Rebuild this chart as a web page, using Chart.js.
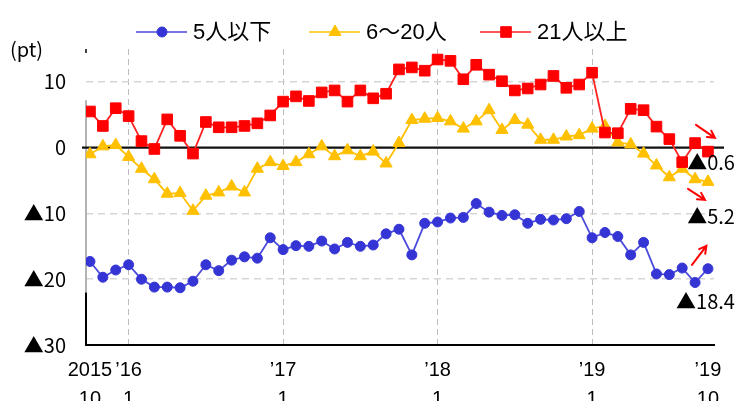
<!DOCTYPE html>
<html><head><meta charset="utf-8">
<script src="https://cdn.jsdelivr.net/npm/chart.js@4.4.0/dist/chart.umd.min.js"></script>
<style>html,body{margin:0;padding:0;background:#fff;}#wrap{width:747px;height:401px;position:relative;}</style>
</head><body><div id="wrap"><canvas id="c" width="747" height="401"></canvas></div>
<script>
// ---- data ----
const months = ["2015/10","2015/11","2015/12","2016/1","2016/2","2016/3","2016/4","2016/5","2016/6","2016/7","2016/8","2016/9","2016/10","2016/11","2016/12",
"2017/1","2017/2","2017/3","2017/4","2017/5","2017/6","2017/7","2017/8","2017/9","2017/10","2017/11","2017/12",
"2018/1","2018/2","2018/3","2018/4","2018/5","2018/6","2018/7","2018/8","2018/9","2018/10","2018/11","2018/12",
"2019/1","2019/2","2019/3","2019/4","2019/5","2019/6","2019/7","2019/8","2019/9","2019/10"];
const seriesNames = ["5人以下","6～20人","21人以上"];
const small5 = [-17.3,-19.7,-18.6,-17.8,-20.0,-21.2,-21.2,-21.3,-20.3,-17.8,
  -18.7,-17.1,-16.6,-16.8,-13.7,-15.5,-14.9,-15.0,-14.2,-15.4,
  -14.4,-15.0,-14.8,-13.1,-12.4,-16.3,-11.5,-11.3,-10.7,-10.6,
  -8.5,-9.8,-10.3,-10.2,-11.5,-10.9,-11.0,-10.8,-9.7,-13.7,
  -12.9,-13.5,-16.3,-14.4,-19.2,-19.3,-18.3,-20.5,-18.4];
const mid6to20 = [-1.0,0.2,0.4,-1.4,-3.2,-4.8,-7.0,-6.9,-9.6,-7.3,
  -6.8,-5.9,-6.8,-3.2,-2.2,-2.8,-2.2,-1.0,0.2,-1.3,
  -0.4,-1.3,-0.6,-2.4,0.7,4.2,4.4,4.5,4.0,2.9,
  4.0,5.7,2.7,4.2,3.5,1.2,1.2,1.7,1.9,2.9,
  3.3,0.8,0.5,-0.9,-2.7,-4.5,-3.2,-4.8,-5.2];
const large21 = [5.5,3.3,6.0,4.8,1.0,-0.2,4.3,1.8,-0.9,3.9,
  3.1,3.1,3.3,3.7,4.9,7.0,7.8,7.1,8.4,8.7,
  7.0,8.7,7.5,8.2,11.9,12.2,11.7,13.4,13.2,10.4,
  12.6,11.1,10.1,8.7,9.0,9.6,10.9,9.1,9.6,11.4,
  2.3,2.2,5.9,5.7,3.2,1.3,-2.2,0.7,-0.6];
const xTickIndex = [0,3,15,27,39,48];
const xTickLabels = [["2015","10"],["’16","1"],["’17","1"],["’18","1"],["’19","1"],["’19","10"]];
const yTickValues = [10,0,-10,-20,-30];
const yTickLabels = ["10","0","▲10","▲20","▲30"];
const latestLabels = ["▲0.6","▲5.2","▲18.4"];
const latestLabelY = [-2.3,-10.5,-23.3];
// arrows: [x1,y1,x2,y2] in chart (index,value) units
const arrowCoords = [[47.07,3.47,48.54,1.49],[46.45,-6.27,47.77,-7.94],[46.76,-17.83,47.88,-14.93]];

// ---- chart ----
const FONT = '"Liberation Sans","Noto Sans CJK JP",sans-serif';
const JFONT = '"Noto Sans CJK JP",sans-serif';
Chart.defaults.font.family = FONT;
Chart.defaults.color = '#000';
const toPts = arr => arr.map((v,i)=>({x:i,y:v}));

const decor = {
  id:'decor',
  beforeDatasetsDraw(chart){
    const {ctx, chartArea:a, scales:{x,y}} = chart;
    ctx.save();
    ctx.lineWidth = 1.5;
    ctx.strokeStyle = '#000';
    ctx.beginPath(); ctx.moveTo(a.left, a.top); ctx.lineTo(a.left, a.top+4); ctx.stroke();
    ctx.strokeStyle = '#9a9a9a';
    ctx.beginPath(); ctx.moveTo(a.left, y.getPixelForValue(7.2)); ctx.lineTo(a.left, y.getPixelForValue(-22)); ctx.stroke();
    ctx.strokeStyle = '#000';
    ctx.lineWidth = 2;
    ctx.beginPath(); ctx.moveTo(a.left, y.getPixelForValue(-22)); ctx.lineTo(a.left, a.bottom); ctx.stroke();
    const y0 = y.getPixelForValue(0);
    ctx.strokeStyle = '#111'; ctx.lineWidth = 2.2;
    ctx.beginPath(); ctx.moveTo(a.left-4, y0); ctx.lineTo(a.right+10, y0); ctx.stroke();
    ctx.restore();
  },
  afterDraw(chart){
    const {ctx, scales:{x,y}} = chart;
    ctx.save();
    ctx.font = '20px ' + JFONT; ctx.fillStyle = '#000';
    ctx.textBaseline = 'middle'; ctx.textAlign = 'left';
    ctx.fillText('(pt)', 10, 49);
    // legend
    const legendX = [136, 309, 480];
    const ly = 32;
    chart.data.datasets.forEach((ds,i)=>{
      const x0 = legendX[i];
      ctx.strokeStyle = ds.borderColor; ctx.lineWidth = 1.5;
      ctx.beginPath(); ctx.moveTo(x0, ly); ctx.lineTo(x0+51, ly); ctx.stroke();
      ctx.fillStyle = ds.pointBackgroundColor; ctx.strokeStyle = ds.pointBorderColor; ctx.lineWidth = 1;
      Chart.helpers.drawPoint(ctx, {pointStyle: ds.pointStyle, radius: ds.pointRadius, borderWidth:1, rotation:0}, x0+26, ly);
      ctx.fillStyle = '#000'; ctx.font = '22px ' + FONT;
      ctx.textAlign = 'left'; ctx.textBaseline = 'middle';
      ctx.fillText(ds.label, x0+57, ly+1);
    });
    // latest value labels
    ctx.font = '20px ' + JFONT; ctx.textAlign = 'right'; ctx.fillStyle = '#000';
    const lx = x.getPixelForValue(months.length-1) + 27;
    latestLabels.forEach((t,i)=> ctx.fillText(t, lx, y.getPixelForValue(latestLabelY[i])));
    // arrows
    ctx.strokeStyle = '#FF0000'; ctx.lineWidth = 2; ctx.lineCap = 'round';
    arrowCoords.forEach(c=>{
      const x1 = x.getPixelForValue(c[0]), y1 = y.getPixelForValue(c[1]);
      const x2 = x.getPixelForValue(c[2]), y2 = y.getPixelForValue(c[3]);
      const ang = Math.atan2(y2-y1, x2-x1), L = 8;
      ctx.beginPath(); ctx.moveTo(x1,y1); ctx.lineTo(x2,y2);
      ctx.moveTo(x2 - L*Math.cos(ang-0.5), y2 - L*Math.sin(ang-0.5)); ctx.lineTo(x2,y2);
      ctx.lineTo(x2 - L*Math.cos(ang+0.5), y2 - L*Math.sin(ang+0.5));
      ctx.stroke();
    });
    ctx.restore();
  }
};

new Chart(document.getElementById('c').getContext('2d'), {
  type:'line',
  data:{ labels: months, datasets:[
    {label:seriesNames[0], data:toPts(small5), borderColor:'#4a4adc', borderWidth:1.8,
     pointStyle:'circle', pointRadius:5, pointBackgroundColor:'#3535d5', pointBorderColor:'#3535d5', pointBorderWidth:1, order:2},
    {label:seriesNames[1], data:toPts(mid6to20), borderColor:'#FFC000', borderWidth:1.8,
     pointStyle:'triangle', pointRadius:7, pointBackgroundColor:'#FFC000', pointBorderColor:'#FFC000', pointBorderWidth:1, order:1},
    {label:seriesNames[2], data:toPts(large21), borderColor:'#FF2020', borderWidth:1.8,
     pointStyle:'rect', pointRadius:7.5, pointBackgroundColor:'#FF0000', pointBorderColor:'#FF0000', pointBorderWidth:1, order:0}
  ]},
  options:{
    responsive:false, animation:false, events:[],
    layout:{padding:{top:49,right:33,left:0,bottom:0}},
    plugins:{legend:{display:false}, tooltip:{enabled:false}},
    scales:{
      x:{type:'linear', min:-0.31, max:48.47,
        afterBuildTicks:s=>{s.ticks = xTickIndex.map(v=>({value:v}));},
        afterFit:s=>{s.height = 56;},
        ticks:{autoSkip:false, maxRotation:0, padding:11, font:{size:20, lineHeight:1.45},
          callback:v=>{const k = xTickIndex.indexOf(v); return k>=0 ? xTickLabels[k] : '';}},
        grid:{drawTicks:false, lineWidth:1,
          color:c=> (c.tick && (c.tick.value===0 || c.tick.value===48)) ? 'rgba(0,0,0,0)' : '#bcbcbc'},
        border:{display:true, color:'#000', width:2, dash:[6,4]}
      },
      y:{min:-30, max:15,
        afterBuildTicks:s=>{s.ticks = yTickValues.map(v=>({value:v}));},
        afterFit:s=>{s.width = 86;},
        ticks:{padding:20, font:{size:20, family:JFONT},
          callback:v=>{const k = yTickValues.indexOf(v); return k>=0 ? yTickLabels[k] : '';}},
        grid:{drawTicks:false, lineWidth:1.6,
          color:c=> (c.tick && [10,-10,-20].includes(c.tick.value)) ? '#d6d6d6' : 'rgba(0,0,0,0)'},
        border:{display:false, dash:[7,5]}
      }
    }
  },
  plugins:[decor]
});
</script>
</body></html>
